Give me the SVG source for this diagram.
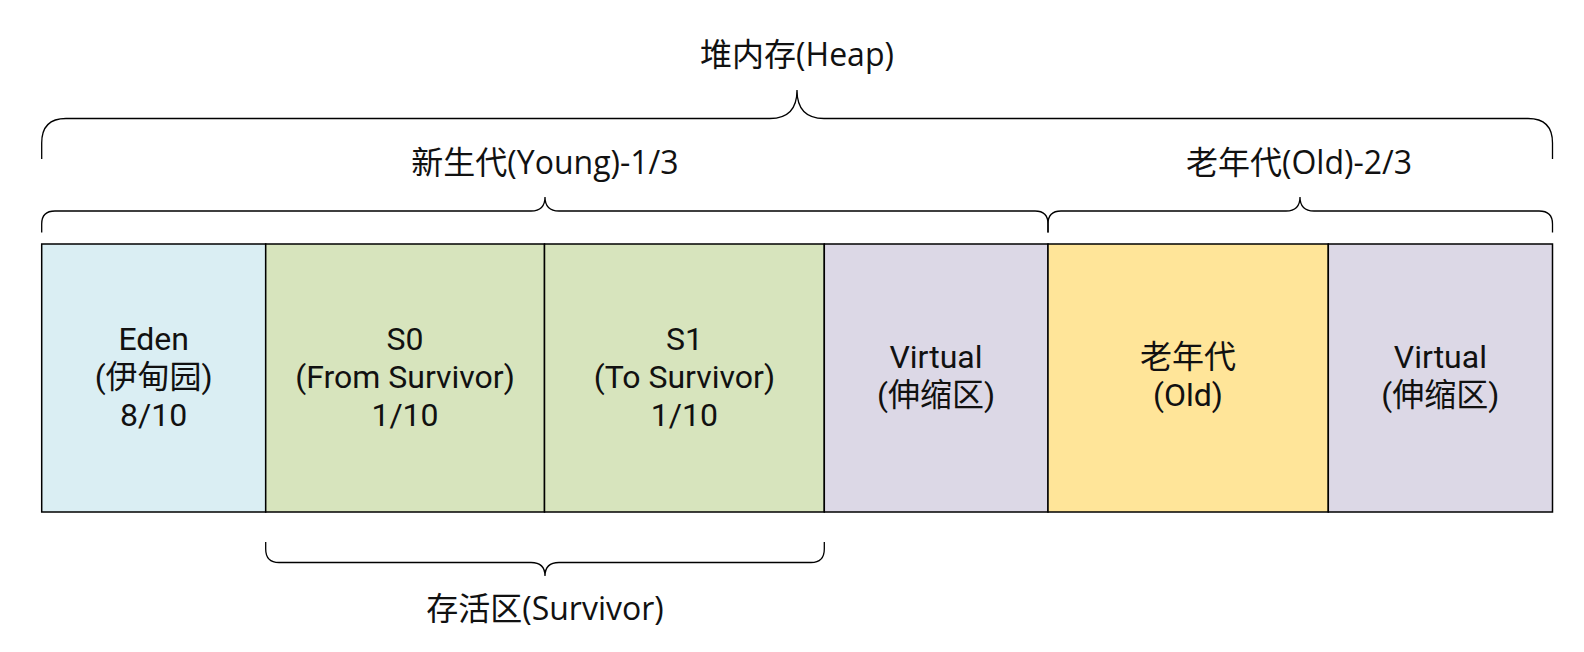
<svg xmlns="http://www.w3.org/2000/svg" width="1584" height="652" viewBox="0 0 1584 652">
<style>
text{font-family:"Open Sans","Noto Sans CJK SC",sans-serif;font-size:32px;fill:#111;text-anchor:middle}
text.ml{font-family:Roboto,"Noto Sans CJK SC",sans-serif;font-size:32px}
.box{stroke:#000;stroke-width:1.5}
.brace{fill:none;stroke:#000;stroke-width:1.3}
</style>
<rect width="1584" height="652" fill="#fff"/>
<g id="connectors">
<path class="brace" d="M41.7,159 L41.7,143 Q41.7,118.5 66,118.5 L770,118.5 Q797,118.5 797,90 Q797,118.5 824,118.5 L1528,118.5 Q1552.5,118.5 1552.5,143 L1552.5,159"/>
<path class="brace" d="M41.7,232.5 L41.7,224 Q41.7,211 55,211 L531,211 Q545,211 545,197 Q545,211 559,211 L1035,211 Q1048,211 1048,224 L1048,232.5"/>
<path class="brace" d="M1048,232.5 L1048,224 Q1048,211 1061,211 L1286,211 Q1300,211 1300,197 Q1300,211 1314,211 L1539,211 Q1552.5,211 1552.5,224 L1552.5,232.5"/>
<path class="brace" d="M265.7,542 L265.7,549 Q265.7,562.5 279,562.5 L531,562.5 Q545,562.5 545,576 Q545,562.5 559,562.5 L811,562.5 Q824.3,562.5 824.3,549 L824.3,542"/>
</g>
<g id="label-heap"><text x="797" y="66">堆内存(Heap)</text></g>
<g id="label-young"><text x="545" y="174">新生代(Young)-1/3</text></g>
<g id="label-old"><text x="1299" y="174">老年代(Old)-2/3</text></g>
<g id="label-survivor"><text x="545" y="620">存活区(Survivor)</text></g>
<g id="eden">
<rect class="box" x="41.7" y="244" width="224" height="268" fill="#DAEEF3"/>
<text class="ml" x="153.7" y="350">Eden<tspan x="153.7" dy="38">(伊甸园)</tspan><tspan x="153.7" dy="38">8/10</tspan></text>
</g>
<g id="s0">
<rect class="box" x="265.7" y="244" width="278.8" height="268" fill="#D7E4BD"/>
<text class="ml" x="405" y="350">S0<tspan x="405" dy="38">(From Survivor)</tspan><tspan x="405" dy="38">1/10</tspan></text>
</g>
<g id="s1">
<rect class="box" x="544.5" y="244" width="279.8" height="268" fill="#D7E4BD"/>
<text class="ml" x="684.4" y="350">S1<tspan x="684.4" dy="38">(To Survivor)</tspan><tspan x="684.4" dy="38">1/10</tspan></text>
</g>
<g id="virtual-young">
<rect class="box" x="824.3" y="244" width="223.7" height="268" fill="#DCD8E6"/>
<text class="ml" x="936" y="368">Virtual<tspan x="936" dy="38">(伸缩区)</tspan></text>
</g>
<g id="old">
<rect class="box" x="1048" y="244" width="280.3" height="268" fill="#FFE599"/>
<text class="ml" x="1188" y="368">老年代<tspan x="1188" dy="38">(Old)</tspan></text>
</g>
<g id="virtual-old">
<rect class="box" x="1328.3" y="244" width="224.2" height="268" fill="#DCD8E6"/>
<text class="ml" x="1440.4" y="368">Virtual<tspan x="1440.4" dy="38">(伸缩区)</tspan></text>
</g>
</svg>
